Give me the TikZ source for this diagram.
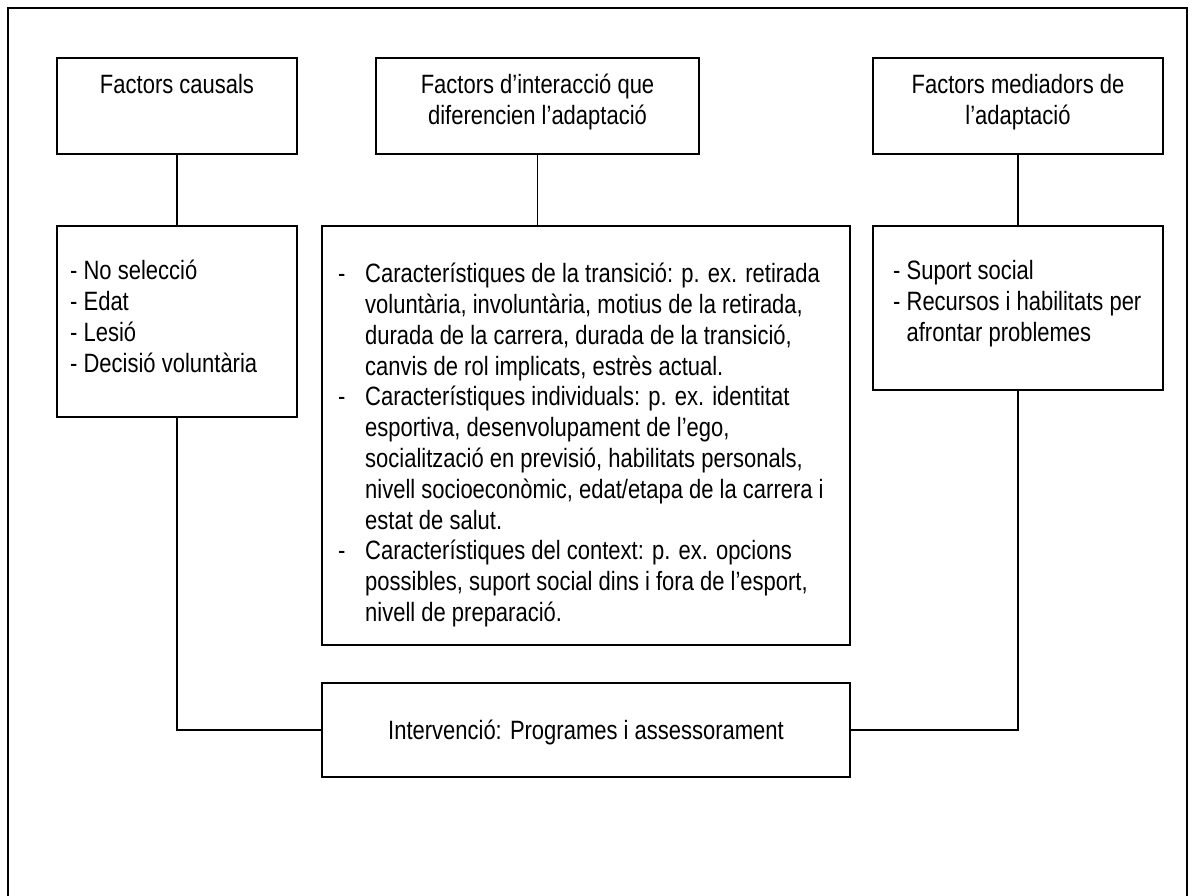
\documentclass[tikz,border=0pt]{standalone}
\usepackage{fontspec}
\setmainfont{Liberation Sans}[FakeStretch=0.83]
\newcommand\itemdash{\makebox[27pt][l]{-}}
\newcommand\itemcont{\hspace*{27pt}}
\begin{document}
\begin{tikzpicture}[x=1pt,y=-1pt,
  box/.style={draw, line width=1.6pt, inner sep=0pt, rectangle},
  frame/.style={draw, line width=2.2pt},
  link/.style={draw, line width=1.6pt},
  txt/.style={inner sep=0pt, font=\fontsize{26.5}{30.8}\selectfont},
]
\useasboundingbox (0,0) rectangle (1193,896);
\clip (0,0) rectangle (1193,896);
\draw[frame] (8,8) rectangle (1187,910);

% header boxes
\node[box, minimum width=240pt, minimum height=96pt] (fc) at (177,106) {};
\node[box, minimum width=323pt, minimum height=96pt] (fi) at (537.5,106) {};
\node[box, minimum width=290pt, minimum height=96pt] (fm) at (1018,106) {};

% content boxes
\node[box, minimum width=240pt, minimum height=191pt] (dl) at (177,321.5) {};
\node[box, minimum width=528pt, minimum height=419pt] (el) at (586,435.5) {};
\node[box, minimum width=290pt, minimum height=164pt] (ml) at (1018,308) {};

% intervention box
\node[box, minimum width=528pt, minimum height=94pt] (iv) at (586,730) {};

% texts
\node[txt, anchor=base] (fct) at (177,94) {Factors causals};
\node[txt, anchor=north, align=center] (fit) at (537.5,72) {\strut Factors d’interacció que\\diferencien l’adaptació};
\node[txt, anchor=north, align=center] (fmt) at (1018,72) {\strut Factors mediadors de\\l’adaptació};

\node[txt, anchor=north west, align=left] (dlt) at (70,258) {\strut - No selecció\\- Edat\\- Lesió\\- Decisió voluntària};

\node[txt, anchor=north west, align=left] (elt) at (338,261) {\strut\itemdash Característiques de la transició: p. ex. retirada\\
\itemcont voluntària, involuntària, motius de la retirada,\\
\itemcont durada de la carrera, durada de la transició,\\
\itemcont canvis de rol implicats, estrès actual.\\
\itemdash Característiques individuals: p. ex. identitat\\
\itemcont esportiva, desenvolupament de l’ego,\\
\itemcont socialització en previsió, habilitats personals,\\
\itemcont nivell socioeconòmic, edat/etapa de la carrera i\\
\itemcont estat de salut.\\
\itemdash Característiques del context: p. ex. opcions\\
\itemcont possibles, suport social dins i fora de l’esport,\\
\itemcont nivell de preparació.};

\node[txt, anchor=north west, align=left] (mlt) at (893,258) {\strut - Suport social\\- Recursos i habilitats per\\\phantom{- }afrontar problemes};

\node[txt, anchor=base] (ivt) at (586,739) {Intervenció: Programes i assessorament};

% connectors
\draw[link] (fc.south) -- (dl.north);
\draw[link] (fi.south) -- (fi.south |- el.north);
\draw[link] (fm.south) -- (ml.north);
\draw[link] (dl.south) |- (iv.west);
\draw[link] (ml.south) |- (iv.east);
\end{tikzpicture}
\end{document}
